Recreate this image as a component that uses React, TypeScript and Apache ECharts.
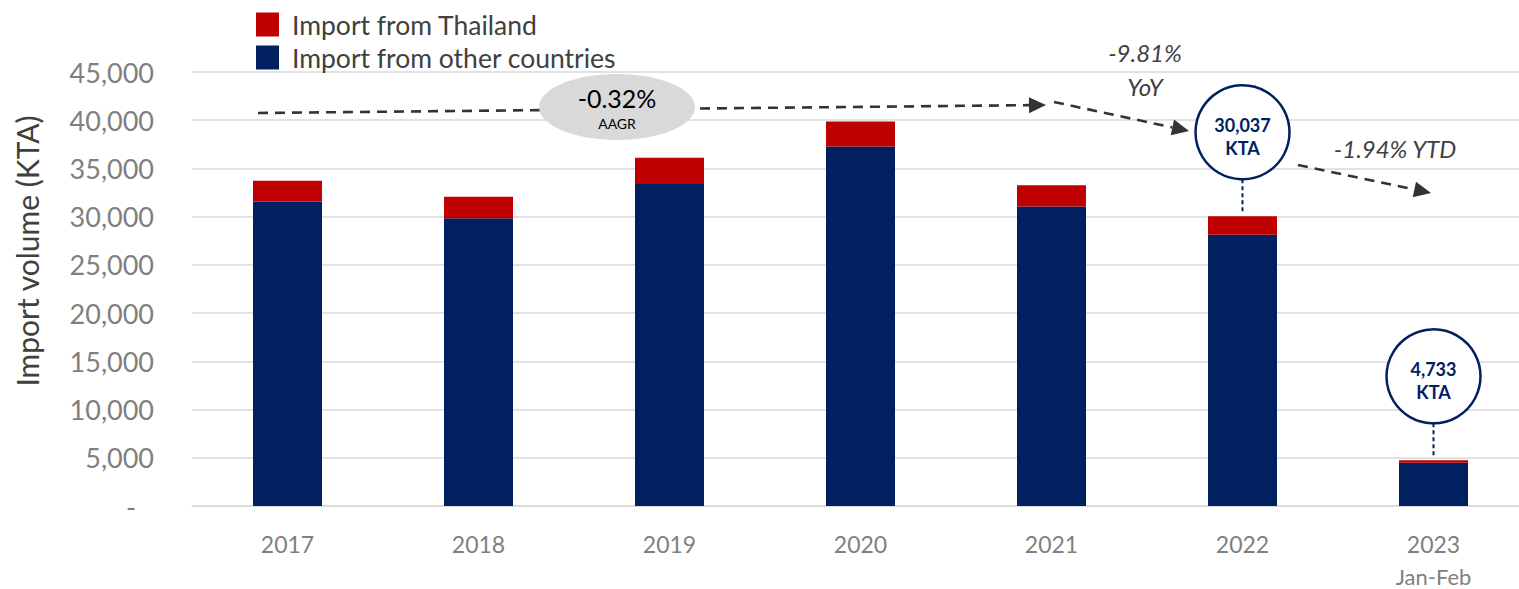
import { useEffect, useRef } from 'react';
import * as echarts from 'echarts';

const categories = ['2017', '2018', '2019', '2020', '2021', '2022', '2023'];
const categorySubLabels = ['', '', '', '', '', '', 'Jan-Feb'];
const otherCountries = [31570, 29840, 33400, 37270, 31050, 28130, 4480];
const thailand = [2144, 2214, 2700, 2600, 2220, 1907, 253];
const seriesNames = ['Import from other countries', 'Import from Thailand'];
const calloutIndex = [5, 6];
const calloutLabels = ['30,037', '4,733'];
const calloutUnit = 'KTA';
const yMax = 45000;
const yInterval = 5000;

const FONT = 'Lato, "Open Sans", sans-serif';
const NAVY = '#002060';
const RED = '#C00000';
const DARK = '#404040';

function arrow(x1: number, y1: number, x2: number, y2: number) {
  const dx = x2 - x1;
  const dy = y2 - y1;
  const len = Math.hypot(dx, dy);
  const ux = dx / len;
  const uy = dy / len;
  const hl = 17;
  const hw = 8;
  const bx = x2 - ux * hl;
  const by = y2 - uy * hl;
  const nx = -uy;
  const ny = ux;
  return [
    {
      type: 'line',
      z: 100,
      shape: { x1, y1, x2: bx, y2: by },
      style: { stroke: '#333333', lineWidth: 2.6, lineDash: [10, 7] },
    },
    {
      type: 'polygon',
      z: 100,
      shape: {
        points: [
          [x2, y2],
          [bx + nx * hw, by + ny * hw],
          [bx - nx * hw, by - ny * hw],
        ],
      },
      style: { fill: '#333333' },
    },
  ];
}

export default function App() {
  const ref = useRef<HTMLDivElement>(null);

  useEffect(() => {
    if (!ref.current) return;
    const chart = echarts.init(ref.current, null, { renderer: 'svg' });
    chart.setOption({
      animation: false,
      backgroundColor: '#ffffff',
      textStyle: { fontFamily: FONT },
      grid: {
        left: 192,
        right: -10,
        top: 72,
        bottom: 83,
        containLabel: false,
        outerBoundsMode: 'none',
      },
      legend: {
        orient: 'vertical',
        left: 251,
        top: 6,
        itemWidth: 23,
        itemHeight: 24,
        itemGap: 6,
        icon: 'rect',
        data: [seriesNames[1], seriesNames[0]],
        textStyle: { fontSize: 26.5, color: DARK, fontFamily: FONT, padding: [0, 0, 0, 8] },
        selectedMode: false,
      },
      xAxis: {
        type: 'category',
        data: categories,
        axisLine: { show: true, lineStyle: { color: '#d9d9d9', width: 1.5 } },
        axisTick: { show: false },
        axisLabel: {
          margin: 22,
          fontSize: 23,
          color: '#7f7f7f',
          fontFamily: FONT,
          lineHeight: 32,
          formatter: (v: string, i: number) =>
            categorySubLabels[i] ? `${v}\n{s|${categorySubLabels[i]}}` : v,
          rich: { s: { fontSize: 22, color: '#7f7f7f', fontFamily: FONT, lineHeight: 32 } },
        },
      },
      yAxis: {
        type: 'value',
        min: 0,
        max: yMax,
        interval: yInterval,
        axisLine: { show: false },
        axisTick: { show: false },
        splitLine: { lineStyle: { color: '#d9d9d9', width: 1.5 } },
        axisLabel: {
          margin: 38,
          fontSize: 27,
          color: '#7f7f7f',
          fontFamily: FONT,
          formatter: (v: number) => (v === 0 ? '{d|-}' : v.toLocaleString('en-US')),
          rich: { d: { fontSize: 27, color: '#7f7f7f', fontFamily: FONT, padding: [0, 18, 0, 0] } },
        },
      },
      series: [
        {
          name: seriesNames[0],
          type: 'bar',
          stack: 'total',
          data: otherCountries,
          barWidth: 69,
          itemStyle: { color: NAVY },
        },
        {
          name: seriesNames[1],
          type: 'bar',
          stack: 'total',
          data: thailand,
          barWidth: 69,
          itemStyle: { color: RED },
        },
      ],
    });

    const px = (i: number, v: number) =>
      chart.convertToPixel({ gridIndex: 0 }, [i, v]) as number[];

    const graphics: any[] = [];
    graphics.push({
      type: 'text',
      z: 100,
      x: 27,
      y: 251,
      rotation: Math.PI / 2,
      style: {
        text: 'Import volume (KTA)',
        fontSize: 30,
        fontFamily: FONT,
        fill: DARK,
        textAlign: 'center',
        textVerticalAlign: 'middle',
      },
    });

    graphics.push(...arrow(258, 113, 1046, 105));
    graphics.push(...arrow(1054, 102, 1189, 131));
    graphics.push(...arrow(1298, 165, 1431, 193));

    graphics.push({
      type: 'ellipse',
      z: 101,
      shape: { cx: 617, cy: 107, rx: 78, ry: 33 },
      style: { fill: '#d9d9d9' },
    });
    graphics.push({
      type: 'text',
      z: 102,
      x: 617,
      y: 98,
      style: {
        text: '-0.32%',
        fontSize: 25,
        fontFamily: FONT,
        fill: '#000000',
        textAlign: 'center',
        textVerticalAlign: 'middle',
      },
    });
    graphics.push({
      type: 'text',
      z: 102,
      x: 617,
      y: 123,
      style: {
        text: 'AAGR',
        fontSize: 14,
        fontFamily: FONT,
        fill: '#000000',
        textAlign: 'center',
        textVerticalAlign: 'middle',
      },
    });

    const italic = (text: string, x: number, y: number) => ({
      type: 'text',
      z: 102,
      x,
      y,
      style: {
        text,
        fontSize: 24,
        fontStyle: 'italic',
        fontFamily: FONT,
        fill: DARK,
        textAlign: 'center',
        textVerticalAlign: 'middle',
      },
    });
    graphics.push(italic('-9.81%', 1145, 52));
    graphics.push(italic('YoY', 1145, 86));
    graphics.push(italic('-1.94% YTD', 1395, 148));

    calloutIndex.forEach((idx, k) => {
      const total = otherCountries[idx] + thailand[idx];
      const [cx, top] = px(idx, total);
      const r = 47;
      const cy = top - 37 - r;
      graphics.push({
        type: 'line',
        z: 100,
        shape: { x1: cx, y1: cy + r, x2: cx, y2: top - 2 },
        style: { stroke: NAVY, lineWidth: 2, lineDash: [4, 3] },
      });
      graphics.push({
        type: 'circle',
        z: 101,
        shape: { cx, cy, r },
        style: { fill: '#ffffff', stroke: NAVY, lineWidth: 2.5 },
      });
      graphics.push({
        type: 'text',
        z: 102,
        x: cx,
        y: cy - 7,
        style: {
          text: calloutLabels[k],
          fontSize: 18,
          fontWeight: 'bold',
          fontFamily: FONT,
          fill: NAVY,
          textAlign: 'center',
          textVerticalAlign: 'middle',
        },
      });
      graphics.push({
        type: 'text',
        z: 102,
        x: cx,
        y: cy + 16,
        style: {
          text: calloutUnit,
          fontSize: 18,
          fontWeight: 'bold',
          fontFamily: FONT,
          fill: NAVY,
          textAlign: 'center',
          textVerticalAlign: 'middle',
        },
      });
    });

    chart.setOption({ graphic: { elements: graphics } });

    return () => chart.dispose();
  }, []);

  return (
    <div
      ref={ref}
      style={{ position: 'absolute', left: 0, top: 0, width: 1519, height: 589, overflow: 'hidden' }}
    />
  );
}
